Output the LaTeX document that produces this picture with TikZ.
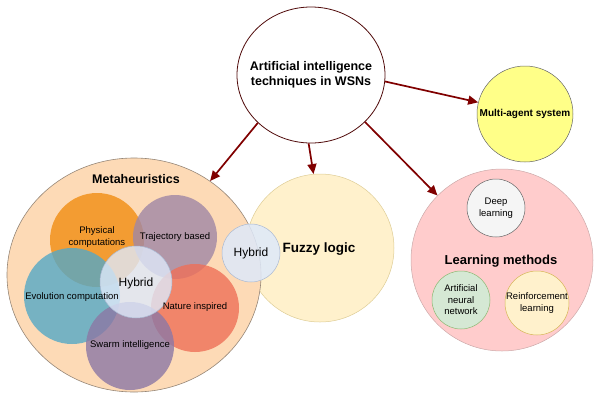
\documentclass[tikz,border=0pt]{standalone}
\usepackage{fontspec}
\setmainfont{Liberation Sans}
\usetikzlibrary{arrows.meta,shapes.geometric}
\definecolor{aired}{RGB}{128,0,0}
\definecolor{aiedge}{RGB}{80,10,10}
\definecolor{metapeach}{RGB}{253,218,182}
\definecolor{metaedge}{RGB}{150,135,120}
\definecolor{fuzzyfill}{RGB}{255,241,204}
\definecolor{fuzzyedge}{RGB}{222,205,150}
\definecolor{learnpink}{RGB}{255,204,204}
\definecolor{learnedge}{RGB}{205,170,170}
\definecolor{agentyellow}{RGB}{255,255,136}
\definecolor{midgray}{RGB}{102,102,102}
\definecolor{physorange}{RGB}{242,150,36}
\definecolor{trajmauve}{RGB}{160,135,165}
\definecolor{evoteal}{RGB}{85,168,198}
\definecolor{natred}{RGB}{238,112,88}
\definecolor{swarmpurple}{RGB}{140,120,165}
\definecolor{hybblue}{RGB}{222,233,250}
\definecolor{hybedge}{RGB}{170,185,210}
\definecolor{deepgray}{RGB}{245,245,245}
\definecolor{anngreen}{RGB}{213,232,212}
\definecolor{annedge}{RGB}{140,185,115}
\definecolor{reinfedge}{RGB}{214,182,86}

\tikzset{
  disc/.style={circle, inner sep=0pt, line width=0.5pt},
  blob/.style={disc, fill=#1, fill opacity=0.8},
  lbl/.style={font=\fontsize{9.5}{11.5}\selectfont, align=center, inner sep=0pt},
  head/.style={font=\bfseries\fontsize{12.5}{15}\selectfont, align=center, inner sep=0pt},
  link/.style={-{Triangle[length=10pt,width=9pt]}, line width=1.7pt, aired},
}

\begin{document}
\begin{tikzpicture}[x=1pt, y=-1pt]
  \useasboundingbox (0,0) rectangle (600,400);

  % root and the two lone circles
  \node[ellipse, draw=aiedge, line width=0.8pt, fill=white, inner sep=0pt,
        minimum width=148pt, minimum height=136pt] (ai) at (311,75) {};
  \node[disc, draw=midgray, fill=agentyellow, minimum size=96pt] (agent) at (525,114) {};
  \node[disc, draw=fuzzyedge, fill=fuzzyfill, minimum size=148pt] (fuzzy) at (320,248) {};

  % metaheuristics cluster
  \node[ellipse, draw=metaedge, fill=metapeach, line width=0.6pt, inner sep=0pt,
        minimum width=254pt, minimum height=234pt] (meta) at (134,275) {};
  \node[blob=physorange, fill opacity=0.9, minimum size=94pt] (phys) at (97,240) {};
  \node[blob=trajmauve, minimum size=84pt] (traj) at (175,237) {};
  \node[blob=evoteal, minimum size=96pt] (evo) at (72,296) {};
  \node[blob=natred, minimum size=88pt] (nature) at (195,308) {};
  \node[blob=swarmpurple, minimum size=88pt] (swarm) at (130,346) {};
  \node[disc, draw=hybedge, fill=hybblue, fill opacity=0.8, minimum size=72pt] (hyb) at (136,282) {};
  \node[disc, draw=hybedge, fill=hybblue, fill opacity=0.85, minimum size=58pt] (hybfz) at (251,253) {};

  % learning methods cluster
  \node[disc, draw=learnedge, fill=learnpink, minimum size=182pt] (learn) at (502,260) {};
  \node[disc, draw=midgray, fill=deepgray, minimum size=58pt] (deep) at (496,208) {};
  \node[disc, draw=annedge, fill=anngreen, minimum size=58pt] (ann) at (461,300) {};
  \node[disc, draw=reinfedge, fill=fuzzyfill, minimum size=64pt] (reinf) at (537,303) {};

  % texts
  \node[head] at (ai) {Artificial intelligence\\techniques in WSNs};
  \node[head, font=\bfseries\fontsize{10}{12}\selectfont] at (agent) {Multi-agent system};
  \node[head, font=\bfseries\fontsize{13.5}{16}\selectfont] at (319,249) {Fuzzy logic};
  \node[head] at (136,179) {Metaheuristics};
  \node[lbl] at (97,237) {Physical\\computations};
  \node[lbl] at (traj) {Trajectory based};
  \node[lbl] at (72,297) {Evolution computation};
  \node[lbl] at (195,307) {Nature inspired};
  \node[lbl] at (130,345) {Swarm intelligence};
  \node[lbl, font=\fontsize{12}{14}\selectfont] at (136,283) {Hybrid};
  \node[lbl, font=\fontsize{12}{14}\selectfont] at (hybfz) {Hybrid};
  \node[head, font=\bfseries\fontsize{13}{16}\selectfont] at (501,261) {Learning methods};
  \node[lbl] at (deep) {Deep\\learning};
  \node[lbl] at (ann) {Artificial\\neural\\network};
  \node[lbl] at (reinf) {Reinforcement\\learning};

  % arrows
  \draw[link] (ai.222) -- (meta.51);
  \draw[link] (ai.268) -- (fuzzy.95);
  \draw[link] (ai.319) -- (learn.135);
  \draw[link] (ai.355) -- (agent.166);
\end{tikzpicture}
\end{document}
